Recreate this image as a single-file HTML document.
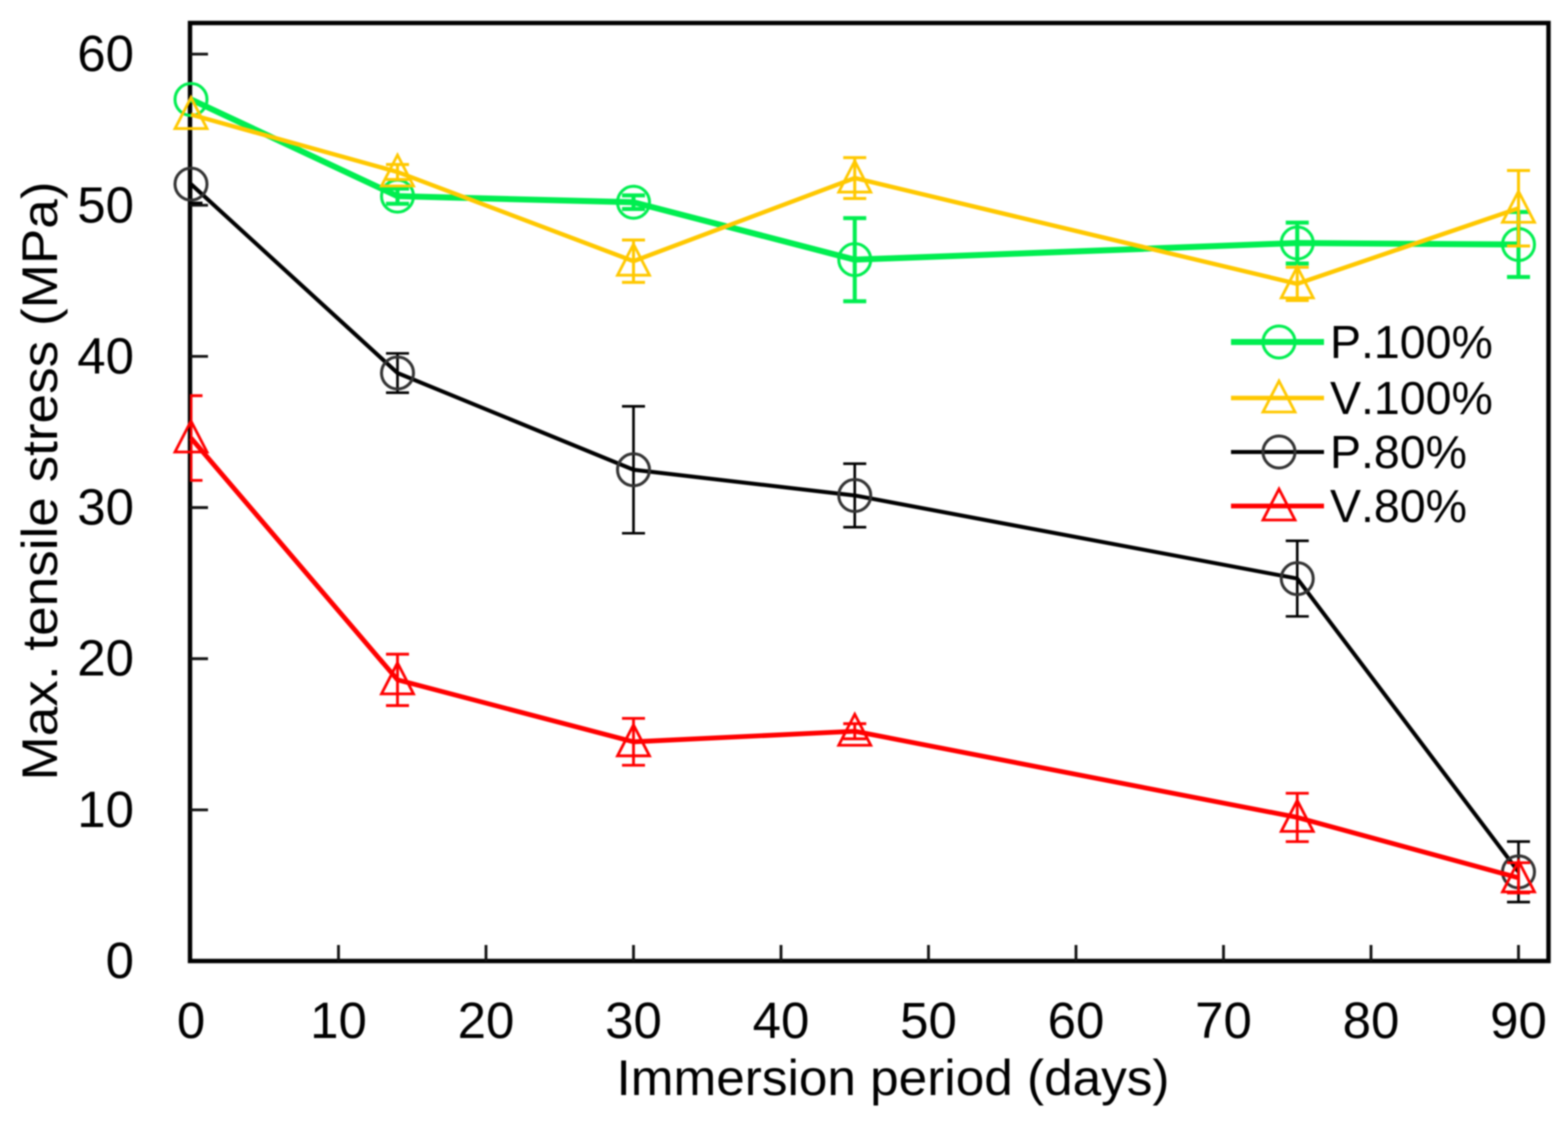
<!DOCTYPE html>
<html><head><meta charset="utf-8"><title>Max. tensile stress vs immersion period</title>
<style>html,body{margin:0;padding:0;background:#fff;width:1566px;height:1121px;overflow:hidden}svg{display:block;font-family:"Liberation Sans",sans-serif;font-kerning:none}</style>
</head><body>
<svg id="chart" width="1566" height="1121" viewBox="0 0 1566 1121" xmlns="http://www.w3.org/2000/svg">
<defs><clipPath id="plot-clip"><rect x="190" y="23" width="1359" height="938"/></clipPath></defs>
<rect x="0" y="0" width="1566" height="1121" fill="#fff"/>
<g id="content" style="filter:blur(0.8px)"></g>
</svg>
<script>
const days = [0, 14, 30, 45, 75, 90];
const xTicks = [0, 10, 20, 30, 40, 50, 60, 70, 80, 90];
const yTicks = [0, 10, 20, 30, 40, 50, 60];
const p100Values = [57.0, 50.6, 50.2, 46.4, 47.5, 47.4];
const p100Errors = [0, 0.5, 0.45, 2.75, 1.35, 2.15];
const v100Values = [56.0, 52.2, 46.3, 51.8, 44.8, 49.8];
const v100Errors = [0, 0.5, 1.4, 1.35, 1.1, 2.5];
const p80Values = [51.4, 38.9, 32.5, 30.8, 25.3, 5.9];
const p80Errors = [1.25, 1.3, 4.2, 2.1, 2.5, 2.0];
const p80UpperErrors = [0, 1.3, 4.2, 2.1, 2.5, 2.0];
const v80Values = [34.6, 18.6, 14.5, 15.2, 9.5, 5.5];
const v80Errors = [2.8, 1.7, 1.55, 0.5, 1.6, 1.0];
const seriesNames = ['P.100%', 'V.100%', 'P.80%', 'V.80%'];

const NS = 'http://www.w3.org/2000/svg';
const root = document.getElementById('content');
const xPos = v => 191 + 14.75 * v;
const yPos = v => 961 - 15.115 * v;
function mk(tag, attrs, parent) {
  const el = document.createElementNS(NS, tag);
  for (const k in attrs) el.setAttribute(k, attrs[k]);
  (parent || root).appendChild(el);
  return el;
}
function marker(kind, cx, cy, color, parent) {
  if (kind === 'circle') {
    return mk('circle', {cx: cx, cy: cy, r: 16, fill: 'none', stroke: color, 'stroke-width': 3}, parent);
  }
  const pts = [[cx, cy - 17], [cx + 16, cy + 14], [cx - 16, cy + 14]].map(p => p.join(',')).join(' ');
  return mk('polygon', {points: pts, fill: 'none', stroke: color, 'stroke-width': 2.8}, parent);
}

const frame = mk('rect', {x: 190, y: 23, width: 1358.5, height: 938, fill: 'none', stroke: '#000', 'stroke-width': 4.4});



const xAxis = mk('g', {});


xTicks.forEach(t => {
  if (t > 0) {
    const tick = mk('line', {x1: xPos(t), x2: xPos(t), y1: 961, y2: 945, stroke: '#111', 'stroke-width': 2.8}, xAxis);
    
    
  }
  const label = mk('text', {x: xPos(t), y: 1038, 'text-anchor': 'middle', 'font-size': 51, fill: '#000'}, xAxis);
  label.textContent = t;
  
  
});

const yAxis = mk('g', {});


yTicks.forEach(t => {
  if (t > 0) {
    const tick = mk('line', {x1: 190, x2: 208, y1: yPos(t), y2: yPos(t), stroke: '#111', 'stroke-width': 2.8}, yAxis);
    
    
  }
  const label = mk('text', {x: 134, y: yPos(t) + 17, 'text-anchor': 'end', 'font-size': 51, fill: '#000'}, yAxis);
  label.textContent = t;
  
  
});

const xTitle = mk('text', {x: 893, y: 1095, 'text-anchor': 'middle', 'font-size': 50, textLength: 553, lengthAdjust: 'spacingAndGlyphs', fill: '#000'});
xTitle.textContent = 'Immersion period (days)';



const yTitle = mk('text', {x: 0, y: 0, 'text-anchor': 'middle', 'font-size': 50, textLength: 599, lengthAdjust: 'spacingAndGlyphs', fill: '#000', transform: 'translate(57 481) rotate(-90)'});
yTitle.textContent = 'Max. tensile stress (MPa)';



const seriesList = [
  {values: p100Values, errors: p100Errors, upper: p100Errors, color: '#00ee50', kind: 'circle', width: 6, errWidth: 4},
  {values: v100Values, errors: v100Errors, upper: v100Errors, color: '#ffc800', kind: 'triangle', width: 4.4, errWidth: 3},
  {values: p80Values, errors: p80Errors, upper: p80UpperErrors, color: '#000000', kind: 'circle', width: 4, errWidth: 2.6},
  {values: v80Values, errors: v80Errors, upper: v80Errors, color: '#ff0000', kind: 'triangle', width: 4.8, errWidth: 2.8}
];

seriesList.forEach((s, i) => {
  const g = mk('g', {});
  
  
  const bars = mk('g', {'clip-path': 'url(#plot-clip)'}, g);
  days.forEach((d, j) => {
    const e = s.errors[j], u = s.upper[j];
    if (e <= 0) return;
    const x = xPos(d), hi = yPos(s.values[j] + u), lo = yPos(s.values[j] - e);
    let path = 'M' + x + ' ' + hi + 'V' + lo + 'M' + (x - 11.5) + ' ' + lo + 'H' + (x + 11.5);
    if (u > 0) path += 'M' + (x - 11.5) + ' ' + hi + 'H' + (x + 11.5);
    const bar = mk('path', {d: path, fill: 'none', stroke: s.color, 'stroke-width': s.errWidth}, bars);
    
    
  });
  const line = mk('polyline', {points: days.map((d, j) => xPos(d) + ',' + yPos(s.values[j])).join(' '), fill: 'none', stroke: s.color, 'stroke-width': s.width, 'stroke-linejoin': 'round'}, g);
  
  
  days.forEach((d, j) => {
    const m = marker(s.kind, xPos(d), yPos(s.values[j]), s.kind === 'circle' && s.color === '#000000' ? '#333' : s.color, g);
    
    
  });
});

const legendRowY = [342, 398, 452, 506];
const legend = mk('g', {});


seriesList.forEach((s, i) => {
  const row = mk('g', {}, legend);
  
  
  mk('line', {x1: 1231, x2: 1324, y1: legendRowY[i], y2: legendRowY[i], stroke: s.color, 'stroke-width': s.width}, row);
  marker(s.kind, 1279, legendRowY[i], s.color === '#000000' ? '#333' : s.color, row);
  const t = mk('text', {x: 1330, y: legendRowY[i] + 16, 'font-size': 46.5, fill: '#000'}, row);
  t.textContent = seriesNames[i];
});
</script>
</body></html>
